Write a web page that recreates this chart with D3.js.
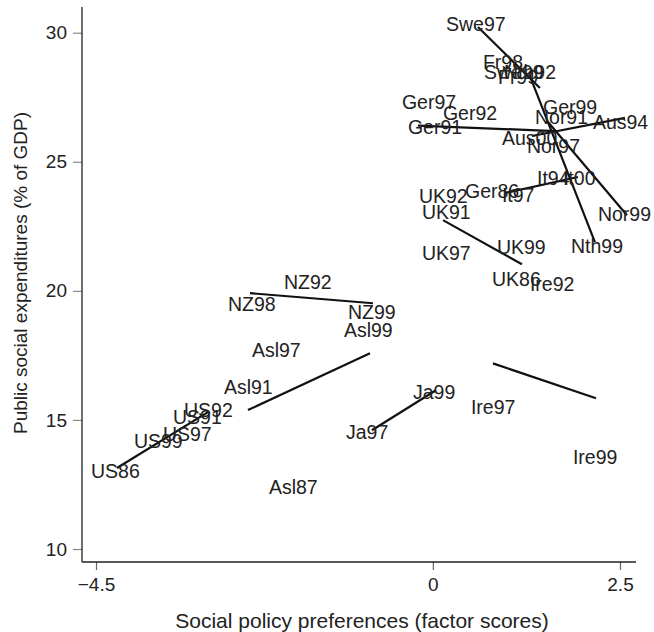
<!DOCTYPE html>
<html>
<head>
<meta charset="utf-8">
<script src="https://cdn.jsdelivr.net/npm/d3@7"></script>
<style>
  html, body { margin: 0; padding: 0; background: #fff; }
  svg { display: block; }
  text { font-family: "Liberation Sans", Arial, Helvetica, sans-serif; }
</style>
</head>
<body>
<svg id="chart" width="654" height="632"></svg>
<script>
// ---- Data ----
const labels = ["Swe97","Fr98","Swe99","Nth92","Fr99","Ger97","Ger92","Ger91","Ger99","Nor91",
  "Aus94","Aus00","Nor97","It94","It00","Ger86","It97","UK92","UK91","UK97",
  "UK99","UK86","Ire92","Nth99","Nor99","NZ92","NZ98","NZ99","Asl99","Asl97",
  "Asl91","US92","US91","US97","US99","US86","Asl87","Ja97","Ja99","Ire97","Ire99"];
const labelX = [0.175,0.669,0.683,0.95,0.870,-0.413,0.135,-0.333,1.471,1.364,
  2.138,0.923,1.257,1.391,1.738,0.429,0.923,-0.186,-0.146,-0.146,
  0.856,0.790,1.297,1.845,2.205,-1.989,-2.737,-1.134,-1.188,-2.417,
  -2.791,-3.325,-3.472,-3.606,-3.993,-4.567,-2.190,-1.161,-0.266,0.509,1.871];
const labelY = [30.34,28.86,28.48,28.48,28.28,27.31,26.89,26.34,27.12,26.73,
  26.54,25.92,25.61,24.37,24.37,23.86,23.71,23.67,23.05,21.46,
  21.69,20.45,20.26,21.73,22.97,20.34,19.48,19.17,18.48,17.70,
  16.27,15.38,15.10,14.45,14.17,13.01,12.39,14.52,16.07,15.49,13.55];

// Country trend segments
const segCountry = ["Swe","Nth","Nor","Ger","Aus","It","UK","NZ","Asl","US","Ja","Ire"];
const segX1 = [0.602,1.297,1.538,-0.200,1.324,0.963,0.135,-2.443,-2.470,-4.220,-0.814,0.803];
const segY1 = [30.22,28.32,26.54,26.40,26.00,23.79,22.74,19.91,15.38,13.14,14.60,17.19];
const segX2 = [1.430,2.165,2.593,1.631,2.566,1.938,1.190,-0.800,-0.840,-3.005,0.041,2.179];
const segY2 = [27.86,21.89,22.93,26.19,26.70,24.41,21.03,19.52,17.58,15.30,16.15,15.84];

const xTicks = [-4.5, 0, 2.5];
const xTickLabels = ["\u22124.5", "0", "2.5"];
const yTicks = [10, 15, 20, 25, 30];
const xTitle = "Social policy preferences (factor scores)";
const yTitle = "Public social expenditures (% of GDP)";

// ---- Layout ----
const svg = d3.select("#chart");
const x = d3.scaleLinear().domain([-4.5, 2.5]).range([96, 620]);
const y = d3.scaleLinear().domain([10, 30]).range([549, 32.7]);
const xLeft = x.invert(82), xRight = x.invert(636);
const yBottom = y.invert(562), yTop = y.invert(7);

// Y axis
const yAxis = d3.axisLeft(y).tickValues(yTicks).tickSize(9).tickPadding(6).tickFormat(d3.format("d"));
const gy = svg.append("g").attr("transform", `translate(${x(xLeft)},0)`).call(yAxis);
gy.select(".domain").remove();
gy.selectAll(".tick line").attr("stroke", "#888").attr("stroke-width", 1.2);
gy.selectAll(".tick text").attr("font-size", 19).attr("fill", "#222")
  .attr("font-family", "Liberation Sans, Arial, sans-serif");
svg.append("line").attr("x1", x(xLeft)).attr("x2", x(xLeft))
  .attr("y1", y(yTop)).attr("y2", y(yBottom)).attr("stroke", "#222").attr("stroke-width", 1.3);

// X axis
const xAxis = d3.axisBottom(x).tickValues(xTicks).tickSize(8).tickPadding(8)
  .tickFormat((d, i) => xTickLabels[i]);
const gx = svg.append("g").attr("transform", `translate(0,${y(yBottom)})`).call(xAxis);
gx.select(".domain").remove();
gx.selectAll(".tick line").attr("stroke", "#666").attr("stroke-width", 1.2);
gx.selectAll(".tick text").attr("font-size", 19).attr("fill", "#222")
  .attr("font-family", "Liberation Sans, Arial, sans-serif");
svg.append("line").attr("x1", x(xLeft)).attr("x2", x(xRight))
  .attr("y1", y(yBottom)).attr("y2", y(yBottom)).attr("stroke", "#222").attr("stroke-width", 1.3);

// Axis titles
svg.append("text").attr("x", 362).attr("y", 628)
  .attr("text-anchor", "middle").attr("font-size", 21).attr("fill", "#222").text(xTitle);
svg.append("text").attr("transform", `translate(27,273) rotate(-90)`)
  .attr("text-anchor", "middle").attr("font-size", 19).attr("fill", "#222").text(yTitle);

// Segments
const segs = segCountry.map((c, i) => ({c, x1: segX1[i], y1: segY1[i], x2: segX2[i], y2: segY2[i]}));
svg.append("g").selectAll("line").data(segs).join("line")
  .attr("x1", d => x(d.x1)).attr("y1", d => y(d.y1))
  .attr("x2", d => x(d.x2)).attr("y2", d => y(d.y2))
  .attr("stroke", "#111").attr("stroke-width", 2.2);

// Labels
const pts = labels.map((l, i) => ({l, x: labelX[i], y: labelY[i]}));
svg.append("g").selectAll("text").data(pts).join("text")
  .attr("x", d => x(d.x)).attr("y", d => y(d.y)).attr("dy", "0.36em")
  .attr("font-size", 19.5).attr("fill", "#222").text(d => d.l);
</script>
</body>
</html>
